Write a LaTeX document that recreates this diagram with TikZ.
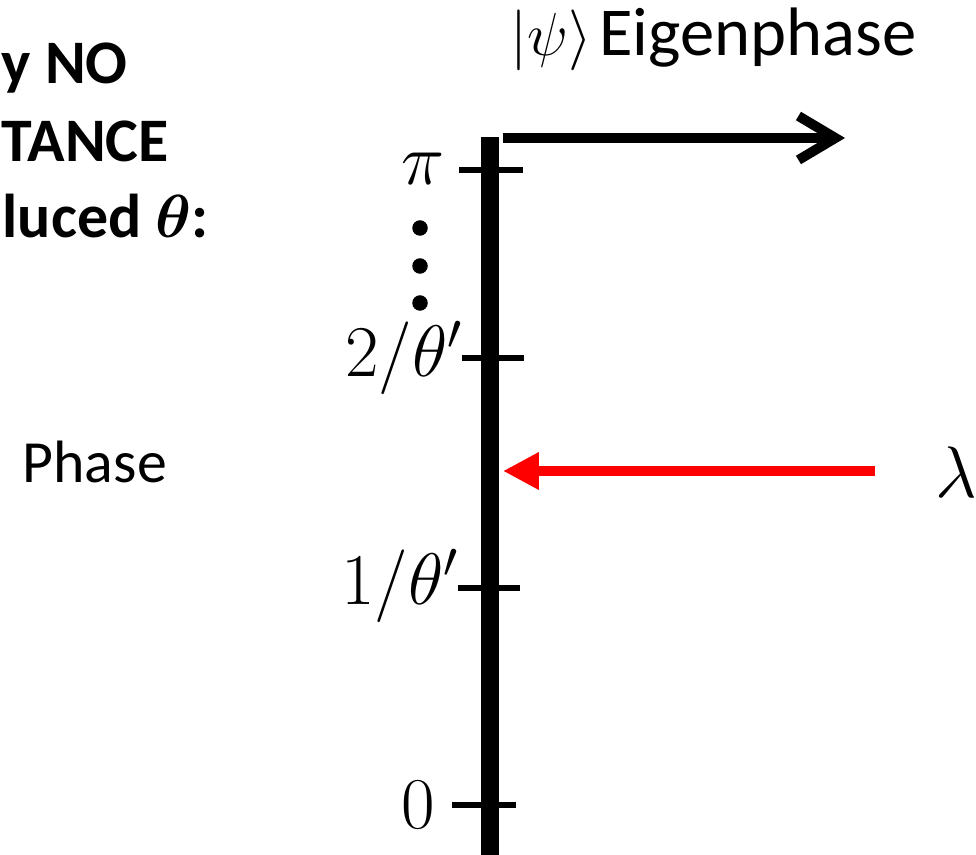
\documentclass[tikz,border=0pt]{standalone}
\usepackage{fontspec}
\usepackage{amsmath,bm}
\setmainfont{Carlito}
\usetikzlibrary{arrows.meta}
\begin{document}
\begin{tikzpicture}[x=0.01cm,y=-0.01cm,
  txt/.style={inner sep=0pt,font=\fontsize{17}{21}\selectfont},
  bigtxt/.style={inner sep=0pt,font=\fontsize{19.5}{23}\selectfont},
  btxt/.style={inner sep=0pt,font=\fontsize{17.6}{21}\selectfont\bfseries},
  mth/.style={inner sep=0pt,font=\fontsize{19.5}{24}\selectfont},
  axisline/.style={line width=5.1pt},
  tickline/.style={line width=1.7pt},
  dotmark/.style={circle,fill=black,inner sep=0pt,minimum size=0.155cm},
  eigarrow/.style={line width=2.8pt,-{Straight Barb[length=10.5pt,width=12.5pt,line width=2.8pt]}},
  redarrow/.style={red,line width=3.1pt,-{Triangle[length=10.2pt,width=10pt]}}]
\useasboundingbox (0,0) rectangle (976,855);
% left text
\node[btxt,anchor=base west] (l1) at (1,84) {y NO};
\node[btxt,anchor=base west] (l2) at (1,162) {TANCE};
\node[btxt,anchor=base west] (l3) at (2,238) {luced $\bm{\theta}$:};
\node[txt,anchor=base west] (phase) at (22,482) {Phase};
% axis
\coordinate (atop) at (490,137);
\coordinate (abot) at (490,855);
\draw[axisline] (atop) -- (abot);
% eigenphase arrow
\coordinate (es) at (503,138);
\coordinate (ee) at (845,138);
\draw[eigarrow] (es) -- (ee);
\node[bigtxt,anchor=base east] (eig) at (917,56) {{\fontsize{16.5}{20}\selectfont$|\psi\rangle$}\kern2pt Eigenphase};
% ticks
\coordinate (tpiL) at (459,170); \coordinate (tpiR) at (523,170);
\coordinate (t2L) at (462,358);  \coordinate (t2R) at (524,358);
\coordinate (t1L) at (458,588);  \coordinate (t1R) at (520,588);
\coordinate (t0L) at (452,805);  \coordinate (t0R) at (516,805);
\draw[tickline] (tpiL) -- (tpiR);
\draw[tickline] (t2L) -- (t2R);
\draw[tickline] (t1L) -- (t1R);
\draw[tickline] (t0L) -- (t0R);
% tick labels
\node[mth] (lpi) at (423,169) {$\pi$};
\node[mth,anchor=east] (l2t) at (464,358) {$2/\theta'$};
\node[mth,anchor=east] (l1t) at (460,586) {$1/\theta'$};
\node[mth] (l0) at (418,805) {$0$};
% dots
\node[dotmark] (d1) at (420,228) {};
\node[dotmark] (d2) at (420,266) {};
\node[dotmark] (d3) at (420,303) {};
% lambda arrow
\node[mth,anchor=west,font=\fontsize{22}{26}\selectfont] (lam) at (935,472) {$\lambda$};
\coordinate (rs) at (875,471);
\coordinate (re) at (503,471);
\draw[redarrow] (rs) -- (re);
\end{tikzpicture}
\end{document}
